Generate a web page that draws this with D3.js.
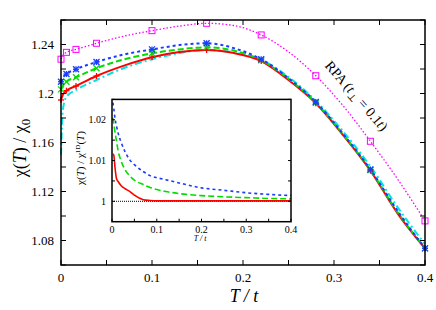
<!DOCTYPE html>
<html>
<head>
<meta charset="utf-8">
<style>
    body { margin: 0; background: #fff; }
    svg text { font-family: "Liberation Serif", "DejaVu Serif", serif; fill: #000; }
    .frame { fill: none; stroke: #000; stroke-width: 1.5px; }
    .tick line { stroke: #000; stroke-width: 1px; }
</style>
</head>
<body>
<div id="chart"></div>
<script src="https://d3js.org/d3.v7.min.js"></script>
<script>
// main panel: chi(T)/chi0 vs T/t
const temps = [0, 0.002, 0.006, 0.0165, 0.039, 0.07, 0.1, 0.13, 0.16, 0.19, 0.22, 0.25, 0.28, 0.31, 0.34, 0.37, 0.4];
const chiRed     = [1.1947, 1.1990, 1.2023, 1.2061, 1.2143, 1.2230, 1.2296, 1.2338, 1.2355, 1.2330, 1.2265, 1.2110, 1.1920, 1.1660, 1.1370, 1.1020, 1.0736];
const chiGreen   = [1.2034, 1.2065, 1.2096, 1.2132, 1.2206, 1.2280, 1.2328, 1.2360, 1.2377, 1.2350, 1.2272, 1.2120, 1.1925, 1.1665, 1.1375, 1.1030, 1.0736];
const chiBlue    = [1.2096, 1.2130, 1.2159, 1.2198, 1.2257, 1.2320, 1.2360, 1.2395, 1.2410, 1.2370, 1.2280, 1.2125, 1.1930, 1.1670, 1.1380, 1.1040, 1.0736];
const chiCyan    = [1.1500, 1.1865, 1.1974, 1.2029, 1.2110, 1.2210, 1.2280, 1.2330, 1.2355, 1.2335, 1.2275, 1.2135, 1.1940, 1.1690, 1.1405, 1.1070, 1.0770];
const chiRPA     = [1.2280, 1.2310, 1.2336, 1.2360, 1.2410, 1.2470, 1.2513, 1.2550, 1.2573, 1.2555, 1.2478, 1.2340, 1.2145, 1.1900, 1.1610, 1.1300, 1.0960];
const markerTemps = [0, 0.006, 0.0165, 0.039, 0.1, 0.16, 0.22, 0.28, 0.34, 0.4];
const mainXTicks = [0, 0.1, 0.2, 0.3, 0.4];
const mainYTicks = [1.08, 1.12, 1.16, 1.2, 1.24];

// inset: chi(T)/chi1D(T)
const insetTemps = [0.002, 0.004, 0.007, 0.01, 0.014, 0.02, 0.029, 0.04, 0.05, 0.07, 0.085, 0.1, 0.12, 0.15, 0.2, 0.25, 0.3, 0.35, 0.4];
const ratioRed   = [1.0116, 1.0113, 1.0080, 1.0056, 1.0048, 1.0039, 1.0031, 1.0024, 1.0015, 1.0004, 1.0002, 1.0001, 1.0001, 1.0001, 1.0001, 1.0001, 1.0001, 1.0001, 1.0001];
const ratioGreen = [1.0205, 1.0190, 1.0168, 1.0148, 1.0122, 1.0100, 1.0078, 1.0062, 1.0052, 1.0041, 1.0034, 1.0029, 1.0024, 1.0019, 1.0014, 1.0011, 1.0009, 1.0007, 1.0006];
const ratioBlue  = [1.0242, 1.0228, 1.0201, 1.0185, 1.0166, 1.0146, 1.0122, 1.0101, 1.0090, 1.0073, 1.0063, 1.0058, 1.0053, 1.0045, 1.0033, 1.0027, 1.0021, 1.0017, 1.0014];
const insetXTicks = [0, 0.1, 0.2, 0.3, 0.4];
const insetYTicks = [1, 1.01, 1.02];

const width = 436, height = 310;
const svg = d3.select("#chart").append("svg")
    .attr("width", width)
    .attr("height", height);

const x = d3.scaleLinear().domain([0, 0.4]).range([61, 425]);
const y = d3.scaleLinear().domain([1.06, 1.26]).range([265, 20]);

const line = (xs, ys, vals, ts) => d3.line()
    .curve(d3.curveMonotoneX)
    .x((d, i) => xs(ts[i]))
    .y(d => ys(d))(vals);

// series styles
const mainSeries = [
    { vals: chiCyan,  color: "#00e5e5", dash: "7,3,2,3", w: 2,   marker: null },
    { vals: chiRed,   color: "#ff0000", dash: null,      w: 2,   marker: "plus" },
    { vals: chiGreen, color: "#00dd00", dash: "6,3",     w: 2,   marker: "cross" },
    { vals: chiBlue,  color: "#1a3cff", dash: "3,3",     w: 2,   marker: "star" },
    { vals: chiRPA,   color: "#ff00ff", dash: "1.5,2",   w: 1.3, marker: "square" }
];

const plot = svg.append("g");
mainSeries.forEach(s => {
    plot.append("path")
        .attr("d", line(x, y, s.vals, temps))
        .attr("fill", "none")
        .attr("stroke", s.color)
        .attr("stroke-width", s.w)
        .attr("stroke-dasharray", s.dash);
});

// markers
function drawMarker(g, type, color, cx, cy) {
    const r = 3;
    if (type === "square") {
        g.append("rect").attr("x", cx - r).attr("y", cy - r)
            .attr("width", 2 * r).attr("height", 2 * r)
            .attr("fill", "none").attr("stroke", color).attr("stroke-width", 1);
        return;
    }
    let segs = [];
    if (type === "plus" || type === "star") segs.push([-r, 0, r, 0], [0, -r, 0, r]);
    if (type === "cross" || type === "star") segs.push([-r, -r, r, r], [-r, r, r, -r]);
    segs.forEach(s => g.append("line")
        .attr("x1", cx + s[0]).attr("y1", cy + s[1])
        .attr("x2", cx + s[2]).attr("y2", cy + s[3])
        .attr("stroke", color).attr("stroke-width", 1.3));
}
mainSeries.filter(s => s.marker).forEach(s => {
    markerTemps.forEach(t => {
        const i = temps.indexOf(t);
        drawMarker(plot, s.marker, s.color, x(t), y(s.vals[i]));
    });
});

// main axes (ticks inward on all sides)
function ticksOn(g, scale, values, orient, pos, len) {
    values.forEach(v => {
        const p = scale(v);
        if (orient === "bottom") g.append("line").attr("x1", p).attr("x2", p).attr("y1", pos).attr("y2", pos - len);
        if (orient === "top")    g.append("line").attr("x1", p).attr("x2", p).attr("y1", pos).attr("y2", pos + len);
        if (orient === "left")   g.append("line").attr("y1", p).attr("y2", p).attr("x1", pos).attr("x2", pos + len);
        if (orient === "right")  g.append("line").attr("y1", p).attr("y2", p).attr("x1", pos).attr("x2", pos - len);
    });
    g.selectAll("line").attr("stroke", "#000").attr("stroke-width", 1);
}
const mainTicks = svg.append("g");
const xMinor = d3.range(0, 0.401, 0.05);
const yMinor = d3.range(1.06, 1.261, 0.02);
ticksOn(mainTicks, x, xMinor, "bottom", 265, 5);
ticksOn(mainTicks, x, xMinor, "top", 20, 5);
ticksOn(mainTicks, y, yMinor, "left", 61, 5);
ticksOn(mainTicks, y, yMinor, "right", 425, 5);

svg.append("rect").attr("class", "frame")
    .attr("x", 61).attr("y", 20).attr("width", 364).attr("height", 245);

svg.append("g").selectAll("text").data(mainXTicks).join("text")
    .attr("x", d => x(d)).attr("y", 282)
    .attr("text-anchor", "middle").attr("font-size", 13)
    .text(d => d3.format("~g")(d));
svg.append("g").selectAll("text").data(mainYTicks).join("text")
    .attr("x", 54).attr("y", d => y(d) + 4.5)
    .attr("text-anchor", "end").attr("font-size", 13)
    .text(d => d3.format("~g")(d));

// axis titles
const xt = svg.append("text").attr("x", 244).attr("y", 302)
    .attr("text-anchor", "middle").attr("font-size", 18).attr("font-style", "italic");
xt.text("T / t");

const yt = svg.append("text")
    .attr("transform", "translate(26,148) rotate(-90)")
    .attr("text-anchor", "middle").attr("font-size", 18);
yt.append("tspan").text("χ(");
yt.append("tspan").attr("font-style", "italic").text("T");
yt.append("tspan").text(") / χ");
yt.append("tspan").attr("font-size", 13).attr("dy", 4).text("0");

// RPA annotation
const rpa = svg.append("text")
    .attr("transform", "translate(353,99) rotate(49)")
    .attr("text-anchor", "middle").attr("font-size", 14);
rpa.append("tspan").text("RPA (");
rpa.append("tspan").attr("font-style", "italic").text("t");
rpa.append("tspan").attr("font-size", 10).attr("dy", 3).text("⊥");
rpa.append("tspan").attr("dy", -3).text(" = 0.1");
rpa.append("tspan").attr("font-style", "italic").text("t");
rpa.append("tspan").text(")");

// inset
const ix = d3.scaleLinear().domain([0, 0.4]).range([112, 291]);
const iy = d3.scaleLinear().domain([0.995, 1.025]).range([221.7, 99.4]);

svg.append("rect").attr("x", 112).attr("y", 99.4).attr("width", 179).attr("height", 122.3)
    .attr("fill", "#fff");

const inset = svg.append("g");
inset.append("line")
    .attr("x1", ix(0)).attr("x2", ix(0.4)).attr("y1", iy(1)).attr("y2", iy(1))
    .attr("stroke", "#333").attr("stroke-width", 1.2).attr("stroke-dasharray", "1,1");

const insetSeries = [
    { vals: ratioRed,   color: "#ff0000", dash: null, w: 1.6 },
    { vals: ratioGreen, color: "#00dd00", dash: "6,3", w: 1.6 },
    { vals: ratioBlue,  color: "#1a3cff", dash: "3,3", w: 1.6 }
];
insetSeries.forEach(s => {
    inset.append("path")
        .attr("d", line(ix, iy, s.vals, insetTemps))
        .attr("fill", "none")
        .attr("stroke", s.color)
        .attr("stroke-width", s.w)
        .attr("stroke-dasharray", s.dash);
});

const insetTicks = svg.append("g");
const ixMinor = d3.range(0, 0.401, 0.05);
const iyMinor = d3.range(1.0, 1.0251, 0.005);
ticksOn(insetTicks, ix, ixMinor, "bottom", 221.7, 3);
ticksOn(insetTicks, iy, iyMinor, "left", 112, 3);
ticksOn(insetTicks, iy, iyMinor, "right", 291, 3);

svg.append("rect").attr("class", "frame").attr("stroke-width", 1.2)
    .attr("x", 112).attr("y", 99.4).attr("width", 179).attr("height", 122.3);

svg.append("g").selectAll("text").data(insetXTicks).join("text")
    .attr("x", d => ix(d)).attr("y", 233)
    .attr("text-anchor", "middle").attr("font-size", 10)
    .text(d => d3.format("~g")(d));
svg.append("g").selectAll("text").data(insetYTicks).join("text")
    .attr("x", 106).attr("y", d => iy(d) + 3.5)
    .attr("text-anchor", "end").attr("font-size", 10)
    .text(d => d3.format("~g")(d));

svg.append("text").attr("x", 200).attr("y", 241)
    .attr("text-anchor", "middle").attr("font-size", 8).attr("font-style", "italic")
    .text("T / t");

const iyt = svg.append("text")
    .attr("transform", "translate(84,158) rotate(-90)")
    .attr("text-anchor", "middle").attr("font-size", 11);
iyt.append("tspan").text("χ(");
iyt.append("tspan").attr("font-style", "italic").text("T");
iyt.append("tspan").text(") / χ");
iyt.append("tspan").attr("font-size", 7).attr("dy", -4).text("1D");
iyt.append("tspan").attr("dy", 4).text("(");
iyt.append("tspan").attr("font-style", "italic").text("T");
iyt.append("tspan").text(")");
</script>
</body>
</html>
